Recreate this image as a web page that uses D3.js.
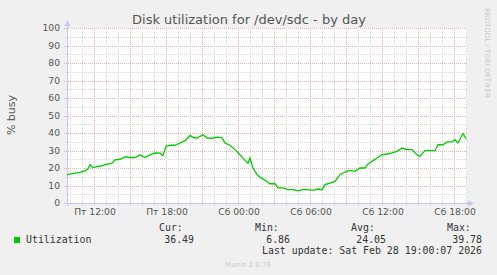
<!DOCTYPE html>
<html>
<head>
<meta charset="utf-8">
<script src="https://cdn.jsdelivr.net/npm/d3@7/dist/d3.min.js"></script>
<style>
  body { margin: 0; background: #f0f0f0; }
  text { font-family: "DejaVu Sans", sans-serif; }
  .mono { font-family: "DejaVu Sans Mono", monospace; }
</style>
</head>
<body>
<div id="chart"></div>
<script>
// samples (local time, % busy)
var times = [
  "2026-02-27 09:45", "2026-02-27 10:00", "2026-02-27 10:25", "2026-02-27 10:50", "2026-02-27 11:15",
  "2026-02-27 11:30", "2026-02-27 11:40", "2026-02-27 11:55", "2026-02-27 12:15", "2026-02-27 12:30",
  "2026-02-27 12:45", "2026-02-27 13:00", "2026-02-27 13:20", "2026-02-27 13:30", "2026-02-27 13:45",
  "2026-02-27 14:10", "2026-02-27 14:35", "2026-02-27 15:00", "2026-02-27 15:25", "2026-02-27 15:40",
  "2026-02-27 15:50", "2026-02-27 16:05", "2026-02-27 16:15", "2026-02-27 16:40", "2026-02-27 17:05",
  "2026-02-27 17:30", "2026-02-27 17:45", "2026-02-27 18:00", "2026-02-27 18:20", "2026-02-27 18:45",
  "2026-02-27 19:10", "2026-02-27 19:35", "2026-02-27 20:00", "2026-02-27 20:15", "2026-02-27 20:35",
  "2026-02-27 20:50", "2026-02-27 21:05", "2026-02-27 21:25", "2026-02-27 21:50", "2026-02-27 22:15",
  "2026-02-27 22:40", "2026-02-27 22:55", "2026-02-27 23:20", "2026-02-27 23:45", "2026-02-28 00:10",
  "2026-02-28 00:35", "2026-02-28 00:50", "2026-02-28 01:00", "2026-02-28 01:15", "2026-02-28 01:35",
  "2026-02-28 01:50", "2026-02-28 02:15", "2026-02-28 02:40", "2026-02-28 03:05", "2026-02-28 03:20",
  "2026-02-28 03:45", "2026-02-28 04:10", "2026-02-28 04:35", "2026-02-28 05:00", "2026-02-28 05:25",
  "2026-02-28 05:50", "2026-02-28 06:15", "2026-02-28 06:40", "2026-02-28 07:00", "2026-02-28 07:15",
  "2026-02-28 07:40", "2026-02-28 08:05", "2026-02-28 08:30", "2026-02-28 08:55", "2026-02-28 09:20",
  "2026-02-28 09:45", "2026-02-28 10:10", "2026-02-28 10:35", "2026-02-28 10:50", "2026-02-28 11:10",
  "2026-02-28 11:35", "2026-02-28 12:00", "2026-02-28 12:25", "2026-02-28 12:50", "2026-02-28 13:15",
  "2026-02-28 13:40", "2026-02-28 14:05", "2026-02-28 14:30", "2026-02-28 14:55", "2026-02-28 15:10",
  "2026-02-28 15:35", "2026-02-28 16:00", "2026-02-28 16:25", "2026-02-28 16:40", "2026-02-28 17:05",
  "2026-02-28 17:25", "2026-02-28 17:50", "2026-02-28 18:05", "2026-02-28 18:20", "2026-02-28 18:45",
  "2026-02-28 19:00"
];
var util = [
  16.2, 16.5, 17.1, 17.5, 18.4,
  19.5, 21.9, 20.2, 20.8, 21.0,
  21.5, 22.0, 22.5, 22.8, 24.7,
  25.0, 26.3, 26.0, 26.0, 26.8,
  27.6, 26.5, 26.0, 27.5, 28.6,
  28.5, 27.2, 32.4, 33.0, 33.0,
  34.3, 35.6, 38.6, 37.5, 37.0,
  38.1, 39.0, 37.1, 37.0, 37.6,
  37.3, 34.3, 33.0, 30.5, 27.6,
  24.2, 22.8, 25.7, 20.0, 16.2,
  14.8, 13.0, 11.0, 11.0, 8.6,
  8.6, 7.6, 7.6, 6.9, 7.6,
  7.6, 7.2, 8.0, 7.6, 10.5,
  11.4, 12.3, 16.2, 17.7, 18.6,
  18.1, 20.0, 20.0, 22.3, 23.8,
  25.7, 27.6, 28.0, 28.6, 29.5,
  31.4, 30.5, 30.5, 27.6, 26.6,
  29.9, 29.9, 29.9, 33.3, 33.3,
  34.9, 34.9, 36.2, 34.3, 39.7,
  36.7
];
var yTicks = [0, 10, 20, 30, 40, 50, 60, 70, 80, 90, 100];
var dayNames = ["Вс", "Пн", "Вт", "Ср", "Чт", "Пт", "Сб"];
var legendHeads = ["Cur:", "Min:", "Avg:", "Max:"];
var legendVals = ["36.49", "6.86", "24.05", "39.78"];

function drawChart() {
  var width = 497, height = 275;
  var plotLeft = 67, plotRight = 467, plotTop = 28, plotBottom = 203;
  var gridMinor = "#d6d6d6", gridMajor = "#e8b0b0", axisColor = "#c4c8f0";

  var parseTime = d3.timeParse("%Y-%m-%d %H:%M");
  var data = times.map(function(t, i) { return { t: parseTime(t), v: util[i] }; });

  var svg = d3.select("#chart").append("svg")
    .attr("width", width)
    .attr("height", height);

  svg.append("rect").attr("width", width).attr("height", height).attr("fill", "#f0f0f0");

  var xScale = d3.scaleTime()
    .domain([new Date(2026, 1, 27, 9, 45), new Date(2026, 1, 28, 19, 5)])
    .range([plotLeft, plotRight]);
  var yScale = d3.scaleLinear()
    .domain([0, 100])
    .range([plotBottom, plotTop]);

  // plot canvas
  svg.append("rect")
    .attr("x", plotLeft).attr("y", plotTop)
    .attr("width", plotRight - plotLeft).attr("height", plotBottom - plotTop)
    .attr("fill", "#ffffff");

  var grid = svg.append("g").attr("shape-rendering", "crispEdges");

  // horizontal grid: minor every 5, major every 10
  var minorY = d3.range(5, 100, 10);
  grid.selectAll(".hminor").data(minorY).enter().append("line")
    .attr("x1", plotLeft - 1).attr("x2", plotRight)
    .attr("y1", d => Math.round(yScale(d)) + 0.5).attr("y2", d => Math.round(yScale(d)) + 0.5)
    .attr("stroke", gridMinor).attr("stroke-dasharray", "1,1");
  grid.selectAll(".hmajor").data(yTicks.slice(1)).enter().append("line")
    .attr("x1", plotLeft - 3).attr("x2", plotRight)
    .attr("y1", d => Math.round(yScale(d)) + 0.5).attr("y2", d => Math.round(yScale(d)) + 0.5)
    .attr("stroke", gridMajor).attr("stroke-dasharray", "1,1");

  // vertical grid: minor every hour, major every 3 hours
  var hours = xScale.ticks(d3.timeHour.every(1)).filter(d => d.getHours() % 3 !== 0);
  var threeHours = xScale.ticks(d3.timeHour.every(3));
  grid.selectAll(".vminor").data(hours).enter().append("line")
    .attr("x1", d => Math.round(xScale(d)) + 0.5).attr("x2", d => Math.round(xScale(d)) + 0.5)
    .attr("y1", plotTop).attr("y2", plotBottom + 2)
    .attr("stroke", gridMinor).attr("stroke-dasharray", "1,1");
  grid.selectAll(".vmajor").data(threeHours).enter().append("line")
    .attr("x1", d => Math.round(xScale(d)) + 0.5).attr("x2", d => Math.round(xScale(d)) + 0.5)
    .attr("y1", plotTop).attr("y2", plotBottom + 3)
    .attr("stroke", gridMajor).attr("stroke-dasharray", "1,1");

  // axes with arrow heads
  var axes = svg.append("g").attr("shape-rendering", "crispEdges");
  axes.append("line")
    .attr("x1", plotLeft + 0.5).attr("x2", plotLeft + 0.5)
    .attr("y1", plotTop - 4).attr("y2", plotBottom + 3)
    .attr("stroke", axisColor);
  axes.append("line")
    .attr("x1", plotLeft - 3).attr("x2", plotRight + 3)
    .attr("y1", plotBottom + 0.5).attr("y2", plotBottom + 0.5)
    .attr("stroke", axisColor);
  svg.append("path")
    .attr("d", `M${plotLeft - 2.5},${plotTop - 2} L${plotLeft + 0.5},${plotTop - 8} L${plotLeft + 3.5},${plotTop - 2} Z`)
    .attr("fill", axisColor);
  svg.append("path")
    .attr("d", `M${plotRight + 1},${plotBottom - 2.5} L${plotRight + 7},${plotBottom + 0.5} L${plotRight + 1},${plotBottom + 3.5} Z`)
    .attr("fill", axisColor);

  // y tick labels
  svg.selectAll(".ylab").data(yTicks).enter().append("text")
    .attr("x", 60)
    .attr("y", d => yScale(d) + 3.3)
    .attr("text-anchor", "end")
    .attr("font-size", "9.2px")
    .attr("fill", "#555")
    .text(d => d);

  // x tick labels every 6 hours
  var sixHours = xScale.ticks(d3.timeHour.every(6));
  svg.selectAll(".xlab").data(sixHours).enter().append("text")
    .attr("x", d => xScale(d) + 1)
    .attr("y", 215)
    .attr("text-anchor", "middle")
    .attr("font-size", "9.2px")
    .attr("fill", "#555")
    .text(d => dayNames[d.getDay()] + " " + d3.timeFormat("%H:%M")(d));

  // the series
  var line = d3.line()
    .x(d => xScale(d.t))
    .y(d => yScale(d.v));
  svg.append("path")
    .datum(data)
    .attr("fill", "none")
    .attr("stroke", "#00cc00")
    .attr("stroke-width", 1.3)
    .attr("d", line);

  // title and axis label
  svg.append("text")
    .attr("x", 249).attr("y", 24)
    .attr("text-anchor", "middle")
    .attr("font-size", "13px")
    .attr("fill", "#555")
    .text("Disk utilization for /dev/sdc - by day");

  svg.append("text")
    .attr("transform", "translate(14.5,115) rotate(-90)")
    .attr("text-anchor", "middle")
    .attr("font-size", "11px")
    .attr("fill", "#555")
    .text("% busy");

  svg.append("text")
    .attr("transform", "translate(485,53) rotate(90)")
    .attr("text-anchor", "middle")
    .attr("font-size", "7px")
    .attr("fill", "#c8c8c8")
    .text("RRDTOOL / TOBI OETIKER");

  // legend
  svg.append("rect")
    .attr("x", 14).attr("y", 237)
    .attr("width", 6).attr("height", 6)
    .attr("fill", "#00cc00");
  svg.append("text").attr("class", "mono")
    .attr("x", 26).attr("y", 243)
    .attr("font-size", "9.9px").attr("fill", "#333")
    .text("Utilization");

  svg.selectAll(".lhead").data(legendHeads).enter().append("text")
    .attr("class", "mono")
    .attr("x", (d, i) => 159 + i * 96).attr("y", 231)
    .attr("font-size", "9.9px").attr("fill", "#333")
    .text(d => d);
  svg.selectAll(".lval").data(legendVals).enter().append("text")
    .attr("class", "mono")
    .attr("x", (d, i) => 194 + i * 96).attr("y", 243)
    .attr("text-anchor", "end")
    .attr("font-size", "9.9px").attr("fill", "#333")
    .text(d => d);

  svg.append("text").attr("class", "mono")
    .attr("x", 482).attr("y", 254)
    .attr("text-anchor", "end")
    .attr("font-size", "9.9px").attr("fill", "#333")
    .text("Last update: Sat Feb 28 19:00:07 2026");

  svg.append("text")
    .attr("x", 248).attr("y", 267)
    .attr("text-anchor", "middle")
    .attr("font-size", "7px")
    .attr("fill", "#c8c8c8")
    .text("Munin 2.0.76");
}

drawChart();
</script>
</body>
</html>
